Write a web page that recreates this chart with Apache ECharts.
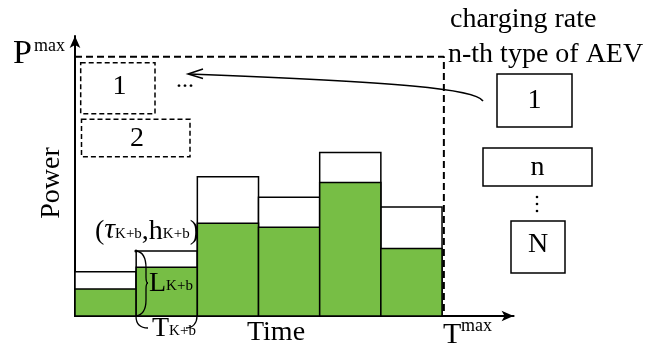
<!DOCTYPE html>
<html>
<head>
<meta charset="utf-8">
<script src="https://cdn.jsdelivr.net/npm/echarts@6/dist/echarts.min.js"></script>
<style>html,body{margin:0;padding:0;background:#fff;}#c{width:662px;height:351px;}</style>
</head>
<body>
<div id="c"></div>
<script>
// Time slots (each bar spans one slot)
const slots = [0, 1, 2, 3, 4, 5];
// Upper (white) level of each slot, in % of P^max
const upperPower = [17.1, 25.1, 53.7, 45.8, 63.1, 42.0];
// Charged (green) level of each slot, in % of P^max
const chargedPower = [10.4, 18.8, 35.8, 34.2, 51.5, 26.0];
// Limits
const PMAX = 100;
const TMAX = 6.03;
const limitPath = [[0, PMAX], [TMAX, PMAX], [TMAX, 0]];

const FONT = '"Liberation Serif", "Times New Roman", serif';
const chart = echarts.init(document.getElementById('c'));

function rectItem(fill) {
  return function (params, api) {
    const i = api.value(0), v = api.value(1);
    const p0 = api.coord([i, 0]);
    const p1 = api.coord([i + 1, v]);
    return {
      type: 'rect',
      shape: {x: p0[0], y: p1[1], width: p1[0] - p0[0], height: p0[1] - p1[1]},
      style: {fill: fill, stroke: '#000', lineWidth: 1.5}
    };
  };
}

function txt(x, y, text, size, opts) {
  opts = opts || {};
  return {
    type: 'text', x: x, y: y, rotation: opts.rotation || 0, z: 10,
    style: {
      text: text, fill: '#000', font: (opts.italic ? 'italic ' : '') + size + 'px ' + FONT,
      align: opts.align || 'left', verticalAlign: 'middle'
    }
  };
}

const rich = {
  b: {fontFamily: FONT, fontSize: 28, lineHeight: 28, verticalAlign: 'bottom', color: '#000'},
  t: {fontFamily: FONT, fontSize: 30, fontStyle: 'italic', lineHeight: 28, verticalAlign: 'bottom', color: '#000'},
  s: {fontFamily: FONT, fontSize: 15, lineHeight: 18, verticalAlign: 'bottom', padding: [0, 0, 4, 0], color: '#000'}
};
function richTxt(x, y, text) {
  return {type: 'text', x: x, y: y, z: 10, style: {text: text, rich: rich, align: 'left', verticalAlign: 'middle'}};
}

const dashedBox = (x, y, w, h) => ({
  type: 'rect', z: 10, shape: {x: x, y: y, width: w, height: h},
  style: {fill: 'none', stroke: '#000', lineWidth: 1.5, lineDash: [5, 3]}
});
const solidBox = (x, y, w, h) => ({
  type: 'rect', z: 10, shape: {x: x, y: y, width: w, height: h},
  style: {fill: '#fff', stroke: '#000', lineWidth: 1.5}
});
const curve = (x1, y1, cx1, cy1, cx2, cy2, x2, y2) => ({
  type: 'bezierCurve', z: 10,
  shape: {x1: x1, y1: y1, cpx1: cx1, cpy1: cy1, cpx2: cx2, cpy2: cy2, x2: x2, y2: y2},
  style: {stroke: '#000', lineWidth: 1.3, fill: 'none'}
});
const seg = (x1, y1, x2, y2) => ({
  type: 'line', z: 10, shape: {x1: x1, y1: y1, x2: x2, y2: y2},
  style: {stroke: '#000', lineWidth: 1.3}
});

chart.setOption({
  animation: false,
  backgroundColor: '#fff',
  grid: {left: 75, top: 36, right: 148.4, bottom: 35},
  xAxis: {
    type: 'value', min: 0, max: 7.17,
    axisLine: {show: true, onZero: false, symbol: ['none', 'arrow'], symbolSize: [8, 12], lineStyle: {color: '#000', width: 2}},
    axisTick: {show: false}, axisLabel: {show: false}, splitLine: {show: false}
  },
  yAxis: {
    type: 'value', min: 0, max: 108,
    axisLine: {show: true, onZero: false, symbol: ['none', 'arrow'], symbolSize: [8, 12], lineStyle: {color: '#000', width: 2}},
    axisTick: {show: false}, axisLabel: {show: false}, splitLine: {show: false}
  },
  series: [
    {type: 'custom', renderItem: rectItem('#fff'), data: slots.map((s, i) => [s, upperPower[i]]), z: 2},
    {type: 'custom', renderItem: rectItem('#77BE45'), data: slots.map((s, i) => [s, chargedPower[i]]), z: 3},
    {type: 'line', data: limitPath, symbol: 'none', z: 4,
     lineStyle: {color: '#000', width: 2, type: [7, 4]}}
  ],
  graphic: [
    // axis titles
    txt(13, 54, 'P', 34),
    txt(34, 46, 'max', 18),
    txt(52, 183, 'Power', 28, {rotation: Math.PI / 2, align: 'center'}),
    txt(276, 333, 'Time', 28, {align: 'center'}),
    txt(443, 335, 'T', 30),
    txt(461, 326, 'max', 18),
    // dashed boxes in the chart
    dashedBox(80.7, 62.7, 74.3, 51),
    txt(119.5, 87, '1', 28, {align: 'center'}),
    dashedBox(81.5, 119.3, 108.5, 37.4),
    txt(137, 138.5, '2', 28, {align: 'center'}),
    txt(176, 81, '...', 24),
    // right side
    txt(450, 20, 'charging rate', 28),
    txt(448, 55, 'n-th type of AEV', 28),
    solidBox(497, 74, 75, 53),
    txt(534.5, 100.5, '1', 28, {align: 'center'}),
    solidBox(483, 148, 109, 38),
    txt(537.5, 168, 'n', 28, {align: 'center'}),
    {type: 'circle', z: 10, shape: {cx: 537, cy: 197, r: 1.3}, style: {fill: '#000'}},
    {type: 'circle', z: 10, shape: {cx: 537, cy: 204, r: 1.3}, style: {fill: '#000'}},
    {type: 'circle', z: 10, shape: {cx: 537, cy: 211, r: 1.3}, style: {fill: '#000'}},
    solidBox(511, 221, 54, 52),
    txt(538, 245, 'N', 28, {align: 'center'}),
    // arrow
    {type: 'bezierCurve', z: 10, shape: {x1: 483, y1: 101, cpx1: 476, cpy1: 89, cpx2: 400, cpy2: 82, x2: 189, y2: 74},
     style: {stroke: '#000', lineWidth: 1.5, fill: 'none'}},
    {type: 'polyline', z: 10, shape: {points: [[203, 69], [188, 74], [203, 78.5]]},
     style: {stroke: '#000', lineWidth: 1.5, fill: 'none'}},
    // annotations
    richTxt(95, 231.5, '{b|(}{t|τ}{s|K+b}{b|,h}{s|K+b}{b|)}'),
    richTxt(149, 284, '{b|L}{s|K+b}'),
    richTxt(152, 328.5, '{b|T}{s|K+b}'),
    {type: 'circle', z: 10, shape: {cx: 136, cy: 251, r: 1.6}, style: {fill: '#000'}},
    curve(136, 251, 144, 252, 146, 259, 146, 268),
    seg(146, 268, 146, 277),
    curve(146, 277, 146, 281, 147, 283, 148, 283),
    curve(148, 283, 147, 283, 146, 285, 146, 289),
    seg(146, 289, 146, 300),
    curve(146, 300, 146, 310, 142, 315, 136, 316),
    curve(136, 316, 136, 323, 139, 328, 148, 328),
    curve(186, 328, 193, 328, 197, 323, 197, 316)
  ]
});
</script>
</body>
</html>
